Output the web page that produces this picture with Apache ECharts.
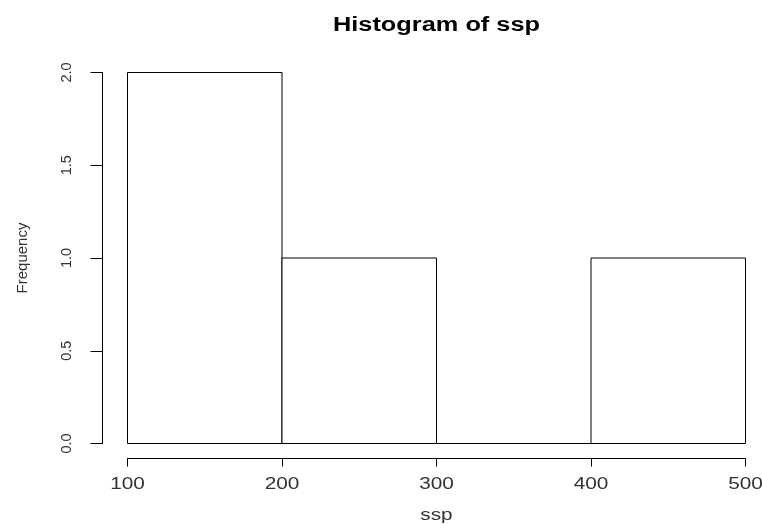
<!DOCTYPE html>
<html>
<head>
<meta charset="utf-8">
<script src="https://cdn.jsdelivr.net/npm/echarts@6/dist/echarts.min.js"></script>
<style>
  html, body { margin: 0; padding: 0; background: #fff; }
  #hist { width: 762px; height: 524px; }
</style>
</head>
<body>
<div id="hist"></div>
<script>
// histogram of ssp: bin edges and counts
var binStart = [100, 200, 300, 400];
var binEnd = [200, 300, 400, 500];
var counts = [2, 1, 0, 1];
var xTicks = [100, 200, 300, 400, 500];
var yTicks = ['0.0', '0.5', '1.0', '1.5', '2.0'];

var bins = binStart.map(function (s, i) {
  return [s, binEnd[i], counts[i]];
});

var textCol = '#333';
var font = 'Liberation Sans';
var stretch = 1.3; // the R device text is drawn wide

var chart = echarts.init(document.getElementById('hist'));
chart.setOption({
  backgroundColor: '#fff',
  animation: false,
  grid: { left: 127.5, right: 16.5, top: 72.5, bottom: 80.5 },
  xAxis: {
    type: 'value',
    min: xTicks[0],
    max: xTicks[xTicks.length - 1],
    interval: 100,
    offset: 15,
    axisLine: { show: true, onZero: false, lineStyle: { color: '#000', width: 1 } },
    axisTick: { show: true, length: 8, lineStyle: { color: '#000' } },
    axisLabel: { show: false },
    splitLine: { show: false }
  },
  yAxis: {
    type: 'value',
    min: 0,
    max: 2,
    interval: 0.5,
    offset: 25,
    name: 'Frequency',
    nameLocation: 'middle',
    nameGap: 72,
    nameRotate: 90,
    nameTextStyle: { fontFamily: font, fontSize: 15, color: textCol },
    axisLine: { show: true, onZero: false, lineStyle: { color: '#000', width: 1 } },
    axisTick: { show: true, length: 12, lineStyle: { color: '#000' } },
    axisLabel: {
      rotate: 90,
      margin: 28,
      fontFamily: font,
      fontSize: 14.5,
      color: textCol,
      formatter: function (v) { return yTicks[Math.round(v / 0.5)]; }
    },
    splitLine: { show: false }
  },
  series: [{
    type: 'custom',
    data: bins,
    encode: { x: [0, 1], y: 2 },
    renderItem: function (params, api) {
      var p0 = api.coord([api.value(0), api.value(2)]);
      var p1 = api.coord([api.value(1), 0]);
      return {
        type: 'rect',
        shape: { x: p0[0], y: p0[1], width: p1[0] - p0[0], height: p1[1] - p0[1] },
        style: { fill: '#fff', stroke: '#000', lineWidth: 1 }
      };
    }
  }]
});

// wide text: title, x tick labels and x name, placed from the axis scale
function wideText(str, x, y, size, weight, col) {
  return {
    type: 'text',
    x: x,
    y: y,
    scaleX: stretch,
    silent: true,
    style: {
      text: str,
      x: 0,
      y: 0,
      align: 'center',
      verticalAlign: 'middle',
      fontFamily: font,
      fontSize: size,
      fontWeight: weight,
      fill: col
    }
  };
}

var x0 = chart.convertToPixel({ xAxisIndex: 0 }, xTicks[0]);
var x1 = chart.convertToPixel({ xAxisIndex: 0 }, xTicks[xTicks.length - 1]);
var yBase = chart.convertToPixel({ yAxisIndex: 0 }, 0);
var mid = (x0 + x1) / 2;

var texts = [wideText('Histogram of ssp', mid, 26, 19.5, 'bold', '#000')];
xTicks.forEach(function (v) {
  texts.push(wideText(String(v), chart.convertToPixel({ xAxisIndex: 0 }, v), yBase + 41, 16, 'normal', textCol));
});
texts.push(wideText('ssp', mid, yBase + 72, 16, 'normal', textCol));

chart.setOption({ graphic: { elements: texts } });
</script>
</body>
</html>
